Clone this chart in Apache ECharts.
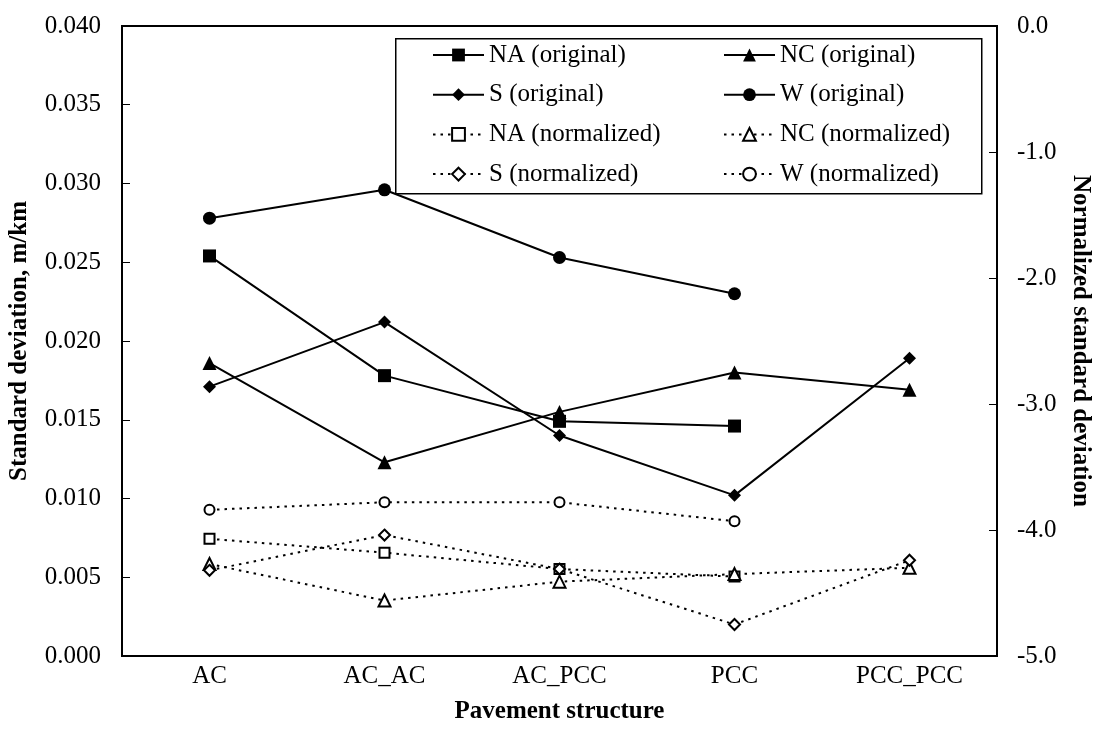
<!DOCTYPE html>
<html>
<head>
<meta charset="utf-8">
<script src="https://cdn.jsdelivr.net/npm/echarts@6/dist/echarts.min.js"></script>
<style>html,body{margin:0;padding:0;background:#fff;}#c{width:1093px;height:744px;}</style>
</head>
<body>
<div id="c"></div>
<script>
const categories = ['AC', 'AC_AC', 'AC_PCC', 'PCC', 'PCC_PCC'];
const naOriginal = [0.0254, 0.0178, 0.0149, 0.0146, null];
const ncOriginal = [0.0186, 0.0123, 0.0155, 0.0180, 0.0169];
const sOriginal = [0.0171, 0.0212, 0.0140, 0.0102, 0.0189];
const wOriginal = [0.0278, 0.0296, 0.0253, 0.0230, null];
const naNormalized = [-4.07, -4.18, -4.31, -4.37, null];
const ncNormalized = [-4.27, -4.56, -4.41, -4.35, -4.30];
const sNormalized = [-4.32, -4.04, -4.31, -4.75, -4.24];
const wNormalized = [-3.84, -3.78, -3.78, -3.93, null];

const FONT = '"Liberation Serif", "Times New Roman", serif';
const chart = echarts.init(document.getElementById('c'), null, {renderer: 'canvas'});

function solid(name, data, symbol, size) {
  return {
    name, type: 'line', data, yAxisIndex: 0, symbol, symbolSize: size,
    connectNulls: false, animation: false,
    lineStyle: {color: '#000', width: 2, type: 'solid'},
    itemStyle: {color: '#000', borderColor: '#000', borderWidth: 0}
  };
}
function dotted(name, data, symbol, size) {
  return {
    name, type: 'line', data, yAxisIndex: 1, symbol, symbolSize: size,
    connectNulls: false, animation: false,
    lineStyle: {color: '#000', width: 2, type: [2.5, 5]},
    itemStyle: {color: '#fff', borderColor: '#000', borderWidth: 2}
  };
}

const legendText = {fontFamily: FONT, fontSize: 25, color: '#000', lineHeight: 26};
const option = {
  backgroundColor: '#fff',
  animation: false,
  textStyle: {fontFamily: FONT, color: '#000'},
  grid: {left: 122, right: 96, top: 26, bottom: 88, show: true, borderColor: '#000', borderWidth: 2,
         containLabel: false, outerBoundsMode: 'none'},
  legend: [
    {
      orient: 'vertical', left: 427, top: 37, itemWidth: 51, itemHeight: 16, itemGap: 13.7,
      textStyle: legendText,
      data: ['NA (original)', 'S (original)', 'NA (normalized)', 'S (normalized)']
    },
    {
      orient: 'vertical', left: 718, top: 37, itemWidth: 51, itemHeight: 16, itemGap: 13.7,
      textStyle: legendText,
      data: ['NC (original)', 'W (original)', 'NC (normalized)', 'W (normalized)']
    }
  ],
  graphic: [{
    type: 'rect', left: 395, top: 38, z: 0,
    shape: {width: 586, height: 155},
    style: {fill: '#fff', stroke: '#000', lineWidth: 1.5}
  }],
  xAxis: {
    type: 'category', data: categories, boundaryGap: true,
    name: 'Pavement structure', nameLocation: 'middle', nameGap: 43,
    nameTextStyle: {fontFamily: FONT, fontSize: 25, fontWeight: 'bold', color: '#000'},
    axisLine: {lineStyle: {color: '#000', width: 2}},
    axisTick: {inside: true, length: 6, lineStyle: {color: '#000', width: 1}},
    axisLabel: {fontFamily: FONT, fontSize: 25, color: '#000', margin: 8},
    splitLine: {show: false}
  },
  yAxis: [
    {
      type: 'value', min: 0, max: 0.04, interval: 0.005, position: 'left',
      name: 'Standard deviation, m/km', nameLocation: 'middle', nameGap: 90,
      nameTextStyle: {fontFamily: FONT, fontSize: 25, fontWeight: 'bold', color: '#000'},
      axisLine: {show: true, lineStyle: {color: '#000', width: 2}},
      axisTick: {show: true, inside: true, length: 8, lineStyle: {color: '#000', width: 1}},
      axisLabel: {fontFamily: FONT, fontSize: 25, color: '#000', margin: 21, formatter: v => v.toFixed(3)},
      splitLine: {show: false}
    },
    {
      type: 'value', min: -5, max: 0, interval: 1, position: 'right',
      name: 'Normalized standard deviation', nameLocation: 'middle', nameGap: 62, nameRotate: -90,
      nameTextStyle: {fontFamily: FONT, fontSize: 25, fontWeight: 'bold', color: '#000'},
      axisLine: {show: true, lineStyle: {color: '#000', width: 2}},
      axisTick: {show: true, inside: true, length: 8, lineStyle: {color: '#000', width: 1}},
      axisLabel: {fontFamily: FONT, fontSize: 25, color: '#000', margin: 20, formatter: v => v.toFixed(1)},
      splitLine: {show: false}
    }
  ],
  series: [
    solid('NA (original)', naOriginal, 'rect', 13),
    solid('NC (original)', ncOriginal, 'triangle', 14),
    solid('S (original)', sOriginal, 'diamond', 13),
    solid('W (original)', wOriginal, 'circle', 13),
    dotted('NA (normalized)', naNormalized, 'rect', 10),
    dotted('NC (normalized)', ncNormalized, 'triangle', 12),
    dotted('S (normalized)', sNormalized, 'diamond', 11),
    dotted('W (normalized)', wNormalized, 'circle', 10)
  ]
};
chart.setOption(option);
</script>
</body>
</html>
